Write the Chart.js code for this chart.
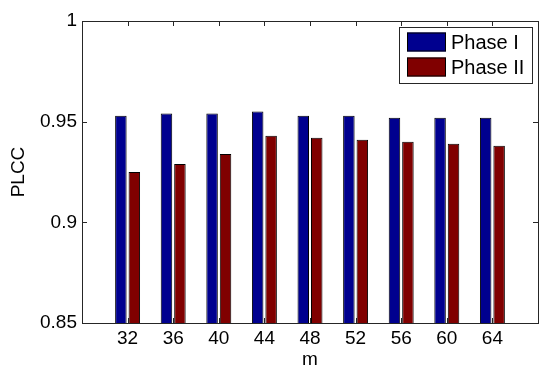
<!DOCTYPE html>
<html>
<head>
<meta charset="utf-8">
<script src="https://cdn.jsdelivr.net/npm/chart.js@4.4.1/dist/chart.umd.min.js"></script>
<style>
  html, body { margin: 0; padding: 0; background: #fff; }
  #wrap { width: 550px; height: 374px; }
</style>
</head>
<body>
<div id="wrap"><canvas id="plcc"></canvas></div>
<script>
// values
const mValues = [32, 36, 40, 44, 48, 52, 56, 60, 64];
const phase1 = [0.953, 0.954, 0.954, 0.955, 0.953, 0.953, 0.952, 0.952, 0.952];
const phase2 = [0.925, 0.929, 0.934, 0.943, 0.942, 0.941, 0.940, 0.939, 0.938];
const yTicks = [0.85, 0.9, 0.95, 1];
const seriesNames = ['Phase I', 'Phase II'];
const seriesColors = ['#00008f', '#800000'];

const FONT = "'Liberation Sans', Arial, sans-serif";

// MATLAB style box with inward tick marks on all four sides
const boxPlugin = {
  id: 'matlabBox',
  afterDatasetsDraw(chart) {
    const { ctx, chartArea: a, scales: { x, y } } = chart;
    const len = 5;
    ctx.save();
    ctx.strokeStyle = '#262626';
    ctx.lineWidth = 1;
    ctx.beginPath();
    x.ticks.forEach(t => {
      const px = Math.round(x.getPixelForValue(t.value)) + 0.5;
      ctx.moveTo(px, a.bottom); ctx.lineTo(px, a.bottom - len);
      ctx.moveTo(px, a.top); ctx.lineTo(px, a.top + len);
    });
    y.ticks.forEach(t => {
      const py = Math.round(y.getPixelForValue(t.value)) + 0.5;
      ctx.moveTo(a.left, py); ctx.lineTo(a.left + len, py);
      ctx.moveTo(a.right, py); ctx.lineTo(a.right - len, py);
    });
    ctx.stroke();
    ctx.strokeRect(Math.round(a.left) + 0.5, Math.round(a.top) + 0.5,
      Math.round(a.right - a.left), Math.round(a.bottom - a.top));
    ctx.restore();
  }
};

// legend box in the top right corner of the axes
const legendPlugin = {
  id: 'boxLegend',
  afterDraw(chart) {
    const { ctx, chartArea: a } = chart;
    const w = 133, h = 56;
    const left = a.right - 6 - w, top = a.top + 6;
    ctx.save();
    ctx.fillStyle = '#fff';
    ctx.fillRect(left, top, w, h);
    ctx.strokeStyle = '#262626';
    ctx.lineWidth = 1;
    ctx.strokeRect(Math.round(left) + 0.5, Math.round(top) + 0.5, w, h);
    ctx.font = '20px ' + FONT;
    ctx.textBaseline = 'middle';
    ctx.textAlign = 'left';
    chart.data.datasets.forEach((ds, i) => {
      const cy = top + 15 + i * 25;
      ctx.fillStyle = ds.backgroundColor;
      ctx.fillRect(left + 8, cy - 9.5, 39, 19);
      ctx.strokeStyle = '#000';
      ctx.strokeRect(left + 8.5, cy - 9, 38, 18);
      ctx.fillStyle = '#000';
      ctx.fillText(ds.label, left + 52, cy + 1);
    });
    ctx.restore();
  }
};

const datasets = [phase1, phase2].map((vals, i) => ({
  label: seriesNames[i],
  data: mValues.map((m, j) => ({ x: m, y: vals[j] })),
  backgroundColor: seriesColors[i],
  borderColor: '#000',
  borderWidth: 1,
  borderSkipped: 'bottom',
  categoryPercentage: 0.59,
  barPercentage: 0.855
}));

new Chart(document.getElementById('plcc'), {
  type: 'bar',
  data: { datasets },
  options: {
    responsive: true,
    maintainAspectRatio: false,
    animation: false,
    layout: { padding: { left: 0, top: 21, right: 12, bottom: 0 } },
    plugins: { legend: { display: false }, tooltip: { enabled: false } },
    scales: {
      x: {
        type: 'linear',
        min: 28,
        max: 68,
        offset: false,
        grid: { display: false, drawTicks: false },
        border: { display: false },
        afterBuildTicks: s => { s.ticks = mValues.map(v => ({ value: v })); },
        afterFit: s => { s.height = 51; },
        ticks: { color: '#000', padding: 4, font: { family: FONT, size: 19 }, callback: v => String(v) },
        title: { display: true, text: 'm', color: '#000', font: { family: FONT, size: 19 }, padding: { top: 0, bottom: 3 } }
      },
      y: {
        min: 0.85,
        max: 1,
        beginAtZero: false,
        grid: { display: false, drawTicks: false },
        border: { display: false },
        afterBuildTicks: s => { s.ticks = yTicks.map(v => ({ value: v })); },
        afterFit: s => { s.width = 82; },
        ticks: { color: '#000', padding: 5, font: { family: FONT, size: 19 }, callback: v => String(v) },
        title: { display: true, text: 'PLCC', color: '#000', font: { family: FONT, size: 19 }, padding: { top: 7, bottom: 0 } }
      }
    }
  },
  plugins: [boxPlugin, legendPlugin]
});
</script>
</body>
</html>
